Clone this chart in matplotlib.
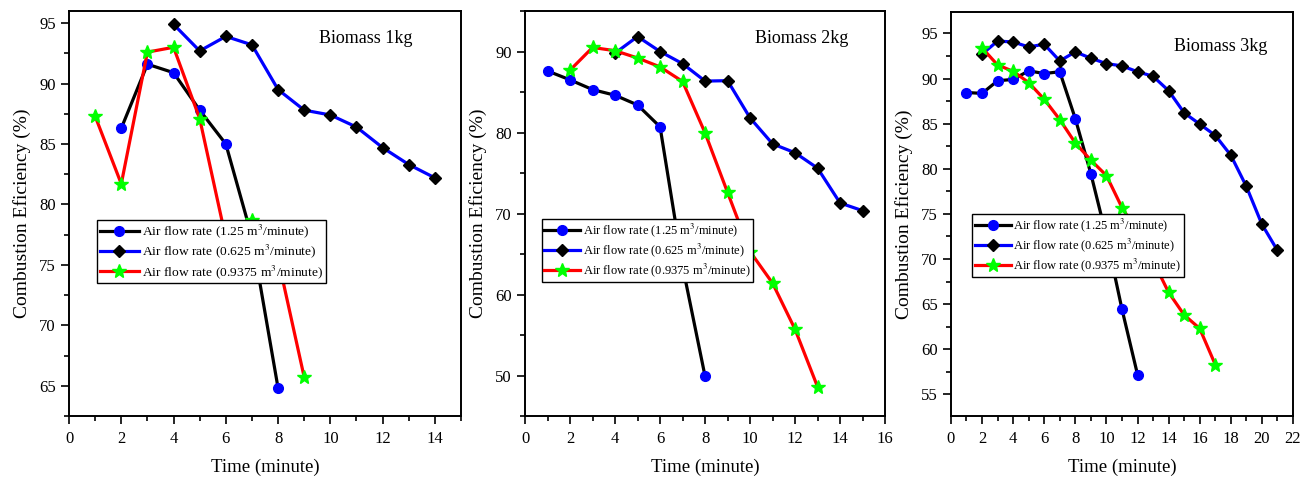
import matplotlib
matplotlib.use('Agg')
import matplotlib.pyplot as plt
from matplotlib.ticker import MultipleLocator

plt.rcParams['font.family'] = ['Liberation Serif', 'DejaVu Serif']
plt.rcParams['mathtext.fontset'] = 'stix'

# ---- data ----
# Biomass 1kg
t1_fast = [2, 3, 4, 5, 6, 7, 8]
ce1_fast = [86.3, 91.6, 90.9, 87.8, 85.0, 77.3, 64.8]          # 1.25 m3/min
t1_slow = [4, 5, 6, 7, 8, 9, 10, 11, 12, 13, 14]
ce1_slow = [94.9, 92.7, 93.9, 93.2, 89.5, 87.8, 87.4, 86.4, 84.7, 83.3, 82.2]  # 0.625
t1_mid = [1, 2, 3, 4, 5, 6, 7, 8, 9]
ce1_mid = [87.3, 81.7, 92.6, 93.0, 87.1, 77.2, 78.7, 75.5, 65.7]  # 0.9375

# Biomass 2kg
t2_fast = [1, 2, 3, 4, 5, 6, 7, 8]
ce2_fast = [87.6, 86.5, 85.3, 84.6, 83.4, 80.7, 63.5, 49.9]
t2_slow = [4, 5, 6, 7, 8, 9, 10, 11, 12, 13, 14, 15]
ce2_slow = [89.8, 91.85, 90.0, 88.5, 86.35, 86.4, 81.8, 78.6, 77.5, 75.6, 71.3, 70.35]
t2_mid = [2, 3, 4, 5, 6, 7, 8, 9, 10, 11, 12, 13]
ce2_mid = [87.7, 90.5, 90.1, 89.2, 88.1, 86.3, 79.95, 72.6, 65.3, 61.4, 55.7, 48.6]

# Biomass 3kg
t3_fast = [1, 2, 3, 4, 5, 6, 7, 8, 9, 10, 11, 12]
ce3_fast = [88.45, 88.35, 89.75, 89.9, 90.85, 90.55, 90.75, 85.55, 79.45, 72.5, 64.45, 57.2]
t3_slow = list(range(2, 22))
ce3_slow = [92.7, 94.15, 94.05, 93.5, 93.8, 91.95, 92.95, 92.25, 91.65, 91.4,
            90.75, 90.25, 88.65, 86.2, 84.95, 83.7, 81.5, 78.05, 73.85, 70.95]
t3_mid = list(range(2, 18))
ce3_mid = [93.4, 91.5, 90.8, 89.55, 87.7, 85.45, 82.85, 80.95, 79.25, 75.7,
           73.0, 69.8, 66.3, 63.8, 62.3, 58.3]

labels = ['Air flow rate (1.25 m$^3$/minute)',
          'Air flow rate (0.625 m$^3$/minute)',
          'Air flow rate (0.9375 m$^3$/minute)']
titles = ['Biomass 1kg', 'Biomass 2kg', 'Biomass 3kg']

panels = [
    dict(data=[(t1_fast, ce1_fast), (t1_slow, ce1_slow), (t1_mid, ce1_mid)],
         rect=[0.0526, 0.1315, 0.2988, 0.8455], xlim=(0, 15), ylim=(62.5, 96),
         ymaj=5, ymin=2.5, leg=(0.072, 0.484), txt=(0.758, 0.931), lfs=9.7),
    dict(data=[(t2_fast, ce2_fast), (t2_slow, ce2_slow), (t2_mid, ce2_mid)],
         rect=[0.4002, 0.1315, 0.2744, 0.8455], xlim=(0, 16), ylim=(45, 95),
         ymaj=10, ymin=5, leg=(0.046, 0.486), txt=(0.768, 0.931), lfs=9.0),
    dict(data=[(t3_fast, ce3_fast), (t3_slow, ce3_slow), (t3_mid, ce3_mid)],
         rect=[0.7248, 0.1315, 0.2607, 0.8440], xlim=(0, 22), ylim=(52.6, 97.4),
         ymaj=5, ymin=2.5, leg=(0.062, 0.499), txt=(0.789, 0.915), lfs=9.0),
]

styles = [
    dict(color='black', marker='o', mfc='blue', mec='blue', ms=7),
    dict(color='blue', marker='D', mfc='black', mec='black', ms=6.5),
    dict(color='red', marker='*', mfc='#00ff00', mec='#00ff00', ms=10),
]

fig = plt.figure(figsize=(13.12, 4.79), dpi=100)

for i, p in enumerate(panels):
    ax = fig.add_axes(p['rect'])
    for (t, ce), st, lab in zip(p['data'], styles, labels):
        ax.plot(t, ce, lw=2.3, label=lab, **st)
    ax.set_xlim(*p['xlim'])
    ax.set_ylim(*p['ylim'])
    ax.xaxis.set_major_locator(MultipleLocator(2))
    ax.xaxis.set_minor_locator(MultipleLocator(1))
    ax.yaxis.set_major_locator(MultipleLocator(p['ymaj']))
    ax.yaxis.set_minor_locator(MultipleLocator(p['ymin']))
    ax.tick_params(which='both', direction='out', top=False, right=False,
                   labelsize=12, width=1.2)
    ax.tick_params(which='major', length=6)
    ax.tick_params(which='minor', length=3.5)
    ax.tick_params(axis='x', pad=5)
    for s in ax.spines.values():
        s.set_linewidth(1.4)
    ax.set_xlabel('Time (minute)', fontsize=13.5, labelpad=8)
    ax.set_ylabel('Combustion Eficiency (%)', fontsize=14, labelpad=6)
    ax.text(p['txt'][0], p['txt'][1], titles[i], transform=ax.transAxes,
            ha='center', va='center', fontsize=13)
    leg = ax.legend(loc='upper left', bbox_to_anchor=p['leg'], borderaxespad=0,
                    fontsize=p['lfs'], frameon=True, fancybox=False,
                    handlelength=2.9, handletextpad=0.2, labelspacing=0.2,
                    borderpad=0.2, framealpha=1)
    leg.get_frame().set_edgecolor('black')
    leg.get_frame().set_linewidth(1.0)

fig.savefig('out.png', dpi=100)
